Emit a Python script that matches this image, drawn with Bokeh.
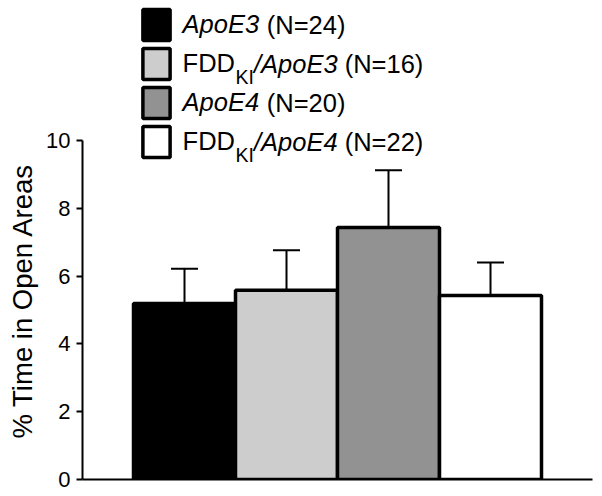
from bokeh.plotting import figure
from bokeh.models import (FactorRange, Range1d, Legend, LegendItem, Whisker, TeeHead,
                          ColumnDataSource, Label, Title, FixedTicker)
from bokeh.core.properties import value
from bokeh.embed import file_html
from bokeh.resources import INLINE

# ---------------- data ----------------
groups = ["ApoE3", "FDDKI/ApoE3", "ApoE4", "FDDKI/ApoE4"]
genotypes = ["ApoE3", "ApoE3", "ApoE4", "ApoE4"]
fdd_ki = [False, True, False, True]
n_mice = [24, 16, 20, 22]
means = [5.19, 5.58, 7.43, 5.43]
sems = [1.03, 1.18, 1.69, 0.97]
colors = ["#000000", "#cdcdcd", "#929292", "#ffffff"]
y_ticks = [0, 2, 4, 6, 8, 10]
y_label = "% Time in Open Areas"

# ---------------- layout / style ----------------
FONT = "Liberation Sans"
W, H = 600, 494
B_LEFT, B_RIGHT, B_TOP, B_BOTTOM = 81, 8, 0, 15
FRAME_BOTTOM = H - B_BOTTOM          # canvas px of y = 0
PX_PER_UNIT = 33.9
y_top = (H - B_TOP - B_BOTTOM) / PX_PER_UNIT

MAIN_PX = 25.5
SUB_PX = 19.5
TICK_PX = 22
YLAB_PX = 27.5

# Arial / Liberation Sans advance widths (1/1000 em)
ADV = {"A": 667, "p": 556, "o": 556, "E": 667, " ": 278, "(": 333, ")": 333,
       "N": 722, "=": 584, "F": 611, "D": 722, "K": 667, "I": 278, "/": 278}
for d in "0123456789":
    ADV[d] = 556


def text_width(s, px):
    return sum(ADV.get(c, 556) for c in s) / 1000.0 * px


src = ColumnDataSource(dict(
    group=groups,
    mean=means,
    upper=[m + s for m, s in zip(means, sems)],
    color=colors,
))

p = figure(width=W, height=H, title=None,
           x_range=FactorRange(factors=groups, range_padding=0.25),
           y_range=Range1d(0, y_top),
           output_backend="svg", toolbar_location=None,
           min_border_left=B_LEFT, min_border_right=B_RIGHT,
           min_border_top=B_TOP, min_border_bottom=B_BOTTOM)
p.outline_line_color = None
p.xgrid.visible = False
p.ygrid.visible = False
p.background_fill_color = "white"
p.border_fill_color = "white"

bars = p.vbar(x="group", top="mean", width=1.0, source=src,
              fill_color="color", line_color="black", line_width=3.5)

whisk = Whisker(base="group", lower="mean", upper="upper", source=src,
                line_color="black", line_width=2,
                upper_head=TeeHead(size=27, line_color="black", line_width=2),
                lower_head=None)
p.add_layout(whisk)

# y axis
p.yaxis.ticker = y_ticks
p.yaxis.bounds = (min(y_ticks), max(y_ticks))
p.yaxis.major_tick_out = 6
p.yaxis.major_tick_in = 0
p.yaxis.minor_tick_out = 0
p.yaxis.minor_tick_in = 0
p.yaxis.axis_line_width = 2
p.yaxis.major_tick_line_width = 2
p.yaxis.major_label_text_font = FONT
p.yaxis.major_label_text_font_size = f"{TICK_PX}px"
p.yaxis.major_label_text_color = "black"
p.yaxis.major_label_standoff = 6

# x axis (line only, no ticks or labels)
p.xaxis.ticker = FixedTicker(ticks=[])
p.xaxis.major_tick_out = 0
p.xaxis.major_tick_in = 0
p.xaxis.minor_tick_out = 0
p.xaxis.minor_tick_in = 0
p.xaxis.major_label_standoff = 0
p.xaxis.axis_line_width = 2

# y axis title, placed along the 0..10 part of the axis
p.add_layout(Title(text=y_label, align="left", offset=41, vertical_align="middle",
                   text_font=FONT, text_font_size=f"{YLAB_PX}px",
                   text_font_style="normal", text_color="black"), "left")

# legend: one single-item legend per row (box + first text part), rest as labels
GLYPH_W, GLYPH_H = 34, 39
BOX_LEFT = 141                 # canvas px of visible box left edge
FIRST_CENTER = 24.5            # canvas px of first row centre
ROW_STEP = 39
TEXT_X = 182                   # canvas px where row text starts
glyph_left = BOX_LEFT - 0.1 * GLYPH_W
standoff = int(round(TEXT_X - (glyph_left + GLYPH_W)))
text_x0 = glyph_left + GLYPH_W + standoff

for i, (geno, ki, n) in enumerate(zip(genotypes, fdd_ki, n_mice)):
    center = FIRST_CENTER + i * ROW_STEP
    if ki:
        first, first_style = "FDD", "normal"
    else:
        first, first_style = geno, "italic"
    leg = Legend(items=[LegendItem(label=value(first), renderers=[bars], index=i)],
                 location=(glyph_left - B_LEFT, FRAME_BOTTOM - (center + GLYPH_H / 2)),
                 orientation="vertical",
                 glyph_width=GLYPH_W, glyph_height=GLYPH_H, spacing=0, padding=0, margin=0,
                 border_line_color=None, background_fill_alpha=0,
                 label_height=GLYPH_H, label_standoff=standoff,
                 label_text_font=FONT, label_text_font_size=f"{MAIN_PX}px",
                 label_text_font_style=first_style, label_text_color="black",
                 label_text_baseline="middle")
    p.add_layout(leg)

    x = text_x0 + text_width(first, MAIN_PX)
    parts = []
    if ki:
        parts.append(("KI", "normal", SUB_PX, 12.5))
        parts.append(("/" + geno, "italic", MAIN_PX, 0))
    parts.append((f" (N={n})", "normal", MAIN_PX, 0))
    for txt, style, px, dy in parts:
        lead = len(txt) - len(txt.lstrip(" "))
        x_txt = x + text_width(" " * lead, px)
        p.add_layout(Label(x=x_txt - B_LEFT, y=FRAME_BOTTOM - (center + dy),
                           x_units="screen", y_units="screen",
                           text=txt.lstrip(" "),
                           text_font=FONT, text_font_style=style,
                           text_font_size=f"{px}px", text_color="black",
                           text_align="left", text_baseline="middle"))
        x += text_width(txt, px)

open("out.html", "w").write(file_html(p, INLINE))
